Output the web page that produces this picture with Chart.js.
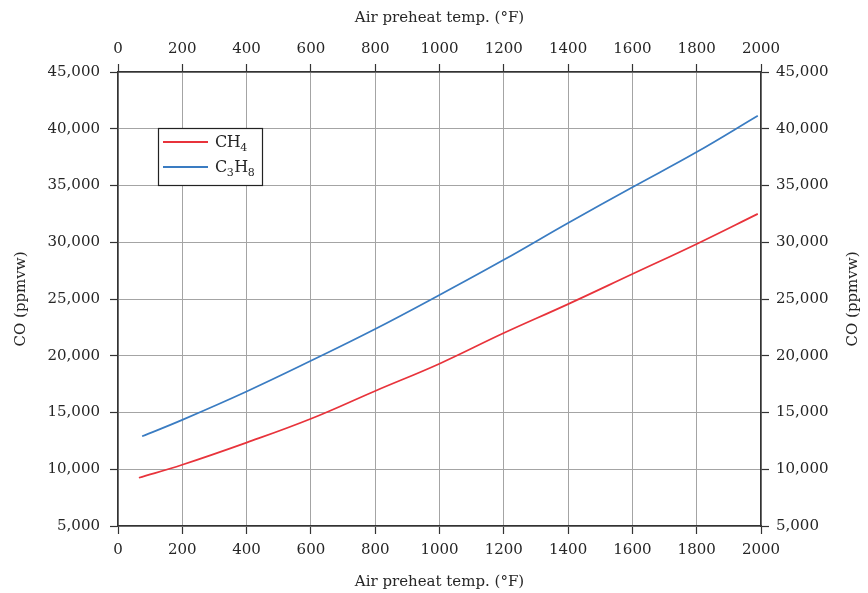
<!DOCTYPE html>
<html>
<head>
<meta charset="utf-8">
<script src="https://cdn.jsdelivr.net/npm/chart.js@4/dist/chart.umd.min.js"></script>
<style>
  html, body { margin: 0; padding: 0; background: #fff; }
  #wrap { width: 868px; height: 593px; }
</style>
</head>
<body>
<div id="wrap"><canvas id="c" width="868" height="593"></canvas></div>
<script>
// Air preheat temperature (°F) sample points
const tempCH4 = [65, 200, 400, 600, 800, 1000, 1200, 1400, 1600, 1800, 1990];
const coCH4   = [9250, 10400, 12350, 14450, 16900, 19300, 22000, 24550, 27200, 29850, 32500];

const tempC3H8 = [75, 200, 400, 600, 800, 1000, 1200, 1400, 1600, 1800, 1990];
const coC3H8   = [12900, 14350, 16850, 19550, 22350, 25350, 28450, 31700, 34850, 37950, 41150];

const seriesNames = ['CH4', 'C3H8'];
const xTicks = [0, 200, 400, 600, 800, 1000, 1200, 1400, 1600, 1800, 2000];
const yTicks = [5000, 10000, 15000, 20000, 25000, 30000, 35000, 40000, 45000];
const yTitle = 'CO (ppmvw)';
const xTitle = 'Air preheat temp. (°F)';

const FONT = 'DejaVu Serif, Liberation Serif, serif';
const TXT = '#262626';

const toPts = (xs, ys) => xs.map((x, i) => ({ x: x, y: ys[i] }));

// Legend box drawn inside the plot, digits rendered as subscripts
const legendBox = {
  id: 'legendBox',
  afterDraw(chart) {
    const ctx = chart.ctx;
    const x0 = 158, y0 = 128, w = 104, h = 57;
    ctx.save();
    ctx.fillStyle = '#fff';
    ctx.fillRect(x0, y0, w, h);
    ctx.strokeStyle = '#222';
    ctx.lineWidth = 1.2;
    ctx.strokeRect(x0 + 0.5, y0 + 0.5, w, h);
    chart.data.datasets.forEach((ds, i) => {
      const cy = y0 + 14 + i * 25;
      ctx.strokeStyle = ds.borderColor;
      ctx.lineWidth = 2;
      ctx.beginPath();
      ctx.moveTo(x0 + 5, cy);
      ctx.lineTo(x0 + 50, cy);
      ctx.stroke();
      let tx = x0 + 57;
      ctx.fillStyle = TXT;
      ctx.textBaseline = 'alphabetic';
      for (const ch of ds.label) {
        if (/[0-9]/.test(ch)) {
          ctx.font = '11px ' + FONT;
          ctx.fillText(ch, tx, cy + 9);
          tx += ctx.measureText(ch).width + 0.5;
        } else {
          ctx.font = '16px ' + FONT;
          ctx.fillText(ch, tx, cy + 5);
          tx += ctx.measureText(ch).width - 0.5;
        }
      }
    });
    ctx.restore();
  }
};

// Right-hand axis title, reading bottom to top like the left one
const rightTitle = {
  id: 'rightTitle',
  afterDraw(chart) {
    const ctx = chart.ctx;
    const a = chart.chartArea;
    ctx.save();
    ctx.translate(chart.width - 15, (a.top + a.bottom) / 2);
    ctx.rotate(-Math.PI / 2);
    ctx.font = '15px ' + FONT;
    ctx.fillStyle = TXT;
    ctx.textAlign = 'center';
    ctx.textBaseline = 'middle';
    ctx.fillText(yTitle, 0, 0);
    ctx.restore();
  }
};

const fmt = v => v.toLocaleString('en-US');

const xCommon = (pos, h, tickPad, titlePad) => ({
  type: 'linear',
  position: pos,
  min: 0, max: 2000,
  afterBuildTicks: s => { s.ticks = xTicks.map(v => ({ value: v })); },
  afterFit: s => { s.height = h; },
  grid: { display: true, drawOnChartArea: pos === 'bottom', color: '#a4a4a4', lineWidth: 1,
          tickLength: 8, tickColor: '#333', tickWidth: 1.2 },
  border: { display: true, color: '#333', width: 1.5 },
  ticks: { color: TXT, font: { family: FONT, size: 15 }, padding: tickPad,
           maxRotation: 0, autoSkip: false, callback: v => String(v) },
  title: { display: true, text: xTitle, color: TXT,
           font: { family: FONT, size: 15 }, padding: titlePad }
});

const yCommon = (pos, w, tickPad, showTitle) => ({
  type: 'linear',
  position: pos,
  min: 5000, max: 45000,
  afterBuildTicks: s => { s.ticks = yTicks.map(v => ({ value: v })); },
  afterFit: s => { s.width = w; },
  grid: { display: true, drawOnChartArea: pos === 'left', color: '#a4a4a4', lineWidth: 1,
          tickLength: 8, tickColor: '#333', tickWidth: 1.2 },
  border: { display: true, color: '#333', width: 1.5 },
  ticks: { color: TXT, font: { family: FONT, size: 15 }, padding: tickPad, callback: v => fmt(v) },
  title: { display: showTitle, text: yTitle, color: TXT,
           font: { family: FONT, size: 15 }, padding: { top: 12, bottom: 2 } }
});

new Chart(document.getElementById('c'), {
  type: 'line',
  data: {
    datasets: [
      { label: seriesNames[0], data: toPts(tempCH4, coCH4), borderColor: '#e8333b',
        borderWidth: 1.7, pointRadius: 0, tension: 0.4, fill: false, xAxisID: 'x', yAxisID: 'y' },
      { label: seriesNames[1], data: toPts(tempC3H8, coC3H8), borderColor: '#3a7cc2',
        borderWidth: 1.7, pointRadius: 0, tension: 0.4, fill: false, xAxisID: 'x', yAxisID: 'y' }
    ]
  },
  options: {
    responsive: false,
    animation: false,
    devicePixelRatio: 1,
    layout: { padding: 0 },
    plugins: { legend: { display: false }, tooltip: { enabled: false } },
    scales: {
      x: xCommon('bottom', 67, 7, { top: 2, bottom: 2 }),
      x2: xCommon('top', 72, 6, { top: 9, bottom: 2 }),
      y: yCommon('left', 118, 10, true),
      y2: yCommon('right', 107, 7, false)
    }
  },
  plugins: [legendBox, rightTitle]
});
</script>
</body>
</html>
